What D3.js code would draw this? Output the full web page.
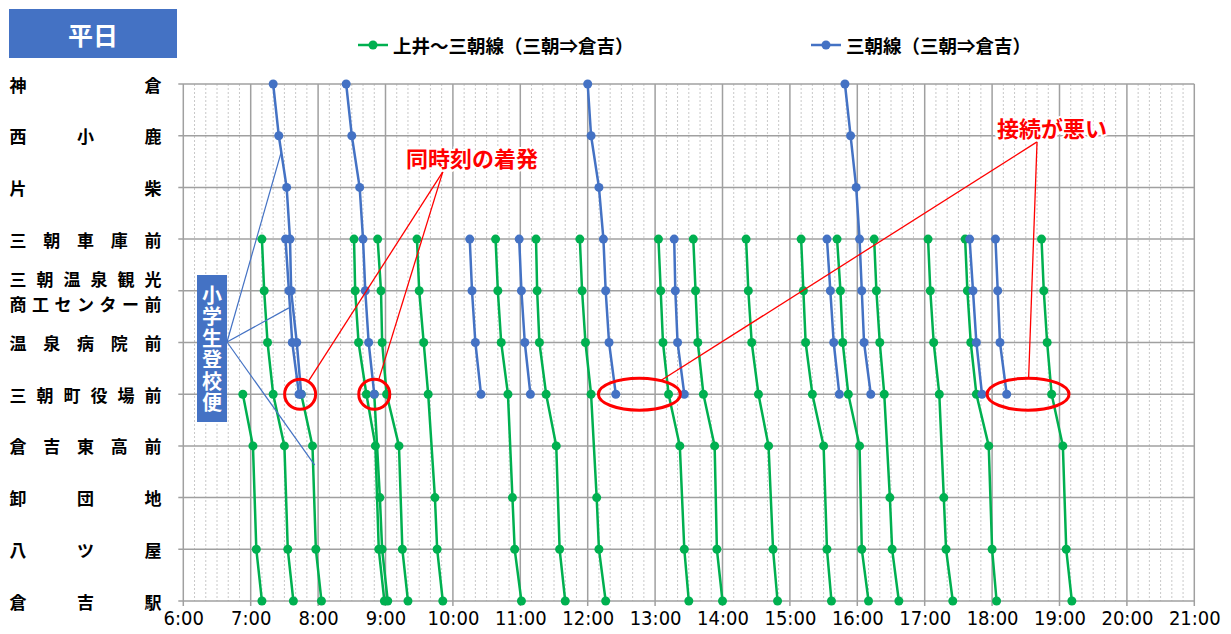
<!DOCTYPE html>
<html><head><meta charset="utf-8">
<script src="https://cdn.jsdelivr.net/npm/d3@7"></script>
<style>
body{margin:0;background:#fff;}
svg{display:block;font-family:"Noto Sans CJK JP","Noto Sans",sans-serif;}
</style>
</head><body>
<svg id="c" width="1231" height="634"></svg>
<script>
// ---------------- data ----------------
const stations = ["神倉","西小鹿","片柴","三朝車庫前","三朝温泉観光商工センター前","温泉病院前","三朝町役場前","倉吉東高前","卸団地","八ツ屋","倉吉駅"];
const stationLabelLines = [["神倉"],["西小鹿"],["片柴"],["三朝車庫前"],["三朝温泉観光","商工センター前"],["温泉病院前"],["三朝町役場前"],["倉吉東高前"],["卸団地"],["八ツ屋"],["倉吉駅"]];
const hourTicks = ["6:00","7:00","8:00","9:00","10:00","11:00","12:00","13:00","14:00","15:00","16:00","17:00","18:00","19:00","20:00","21:00"];
const seriesNames = ["上井～三朝線（三朝⇒倉吉）","三朝線（三朝⇒倉吉）"];
const title = "平日";

// 上井～三朝線 (green) trips: times per station (null = no stop)
const greenTrips = [
 [null,null,null,null,null,null,"6:53","7:02",null,"7:05","7:10"],
 [null,null,null,"7:10","7:12","7:15","7:20","7:30",null,"7:33","7:38"],
 [null,null,null,null,null,null,"7:45","7:55",null,"7:58","8:03"],
 [null,null,null,"8:32","8:33","8:36","8:43","8:51",null,"8:54","8:59"],
 [null,null,null,null,null,null,"8:50",null,"8:55","8:57","9:02"],
 [null,null,null,"8:53","8:56","8:57","9:01","9:12",null,"9:15","9:20"],
 [null,null,null,"9:28","9:30","9:34","9:38",null,"9:44","9:46","9:51"],
 [null,null,null,"10:38","10:40","10:43","10:49",null,"10:53","10:55","11:01"],
 [null,null,null,"11:14","11:15","11:17","11:23","11:32",null,"11:35","11:40"],
 [null,null,null,"11:53","11:55","11:58","12:03",null,"12:08","12:10","12:16"],
 [null,null,null,"13:03","13:05","13:07","13:12","13:22",null,"13:26","13:30"],
 [null,null,null,"13:34","13:36","13:38","13:43","13:53",null,"13:55","14:00"],
 [null,null,null,"14:21","14:23","14:26","14:32","14:41",null,"14:45","14:49"],
 [null,null,null,"15:10","15:12","15:14","15:20","15:30",null,"15:33","15:37"],
 [null,null,null,"15:42","15:45","15:47","15:52","16:02",null,"16:04","16:10"],
 [null,null,null,"16:15","16:17","16:20","16:24",null,"16:29","16:31","16:37"],
 [null,null,null,"17:03","17:05","17:08","17:13",null,"17:17","17:19","17:25"],
 [null,null,null,"17:36","17:38","17:41","17:46","17:57",null,"18:00","18:04"],
 [null,null,null,"18:44","18:46","18:49","18:53","19:03",null,"19:06","19:11"]
];
// 三朝線 (blue) trips
const blueTrips = [
 ["7:20","7:25","7:32","7:35","7:36","7:41","7:45"],
 [null,null,null,"7:31","7:34","7:37","7:43"],
 ["8:25","8:30","8:37","8:40","8:42","8:45","8:50"],
 [null,null,null,"10:15","10:17","10:20","10:25"],
 [null,null,null,"10:59","11:01","11:04","11:09"],
 ["12:00","12:03","12:10","12:14","12:16","12:19","12:25"],
 [null,null,null,"13:17","13:18","13:20","13:26"],
 [null,null,null,"15:33","15:36","15:39","15:44"],
 ["15:49","15:54","15:59","16:02","16:04","16:06","16:12"],
 [null,null,null,"17:40","17:43","17:46","17:51"],
 [null,null,null,"18:03","18:05","18:07","18:13"]
];

// annotations (in data space: time, station index)
const sameTimeLabel = "同時刻の着発";
const sameTimeCircles = [{t:"7:44", s:6}, {t:"8:50", s:6}];
const sameTimeHub = {t:"9:51", s:1.70};
const badLabel = "接続が悪い";
const badEllipses = [{t:"12:46", s:6}, {t:"18:32", s:6}];
const badHub = {t:"18:40", s:1.12};
const studentLabel = "小学生登校便";
const studentTargets = [{t:"7:27", s:1.33},{t:"7:34", s:4.33},{t:"7:57", s:7.37}];

// ---------------- drawing ----------------
const GREEN = "#00B050", BLUE = "#4472C4", RED = "#FF0000";
const toMin = s => { const [h,m] = s.split(":").map(Number); return h*60+m; };
const svg = d3.select("#c");
const x = d3.scaleLinear().domain([toMin(hourTicks[0]), toMin(hourTicks[hourTicks.length-1])]).range([183.3, 1194.3]);
const y = d3.scaleLinear().domain([0, stations.length-1]).range([84, 601]);

// minor grid (10 min)
const g = svg.append("g");
const minor = d3.range(x.domain()[0], x.domain()[1]+1, 10).filter(m => m%60 !== 0);
g.selectAll("line.minor").data(minor).join("line")
  .attr("x1", d=>x(d)).attr("x2", d=>x(d)).attr("y1", y(0)).attr("y2", y(10))
  .attr("stroke", "#c8c8c8").attr("stroke-width", 1).attr("stroke-dasharray", "2,2");
// major vertical grid
g.selectAll("line.vmaj").data(hourTicks.map(toMin)).join("line")
  .attr("x1", d=>x(d)).attr("x2", d=>x(d)).attr("y1", y(0)).attr("y2", y(10)+5)
  .attr("stroke", "#a0a0a0").attr("stroke-width", 1.5);
// horizontal grid
g.selectAll("line.hmaj").data(d3.range(stations.length)).join("line")
  .attr("x1", x.range()[0]-5).attr("x2", x.range()[1]).attr("y1", d=>y(d)).attr("y2", d=>y(d))
  .attr("stroke", "#a0a0a0").attr("stroke-width", 1.5);

// x axis labels
const xAxis = d3.axisBottom(x).tickValues(hourTicks.map(toMin)).tickFormat((d,i)=>hourTicks[i]).tickSize(0).tickPadding(10);
const ax = svg.append("g").attr("transform", `translate(0,${y(10)})`).call(xAxis);
ax.select(".domain").remove();
ax.selectAll("text").attr("font-family", "'Liberation Sans Narrow','DejaVu Sans Condensed',sans-serif")
  .attr("font-size", 20).attr("fill", "#000");

// y labels (distributed)
const labelLeft = 18, labelRight = 153;
stationLabelLines.forEach((lines, i) => {
  lines.forEach((ln, j) => {
    const chars = Array.from(ln);
    const yy = y(i) + (lines.length === 1 ? 0 : (j === 0 ? -12.5 : 12.5));
    chars.forEach((c, k) => {
      const cx = chars.length === 1 ? labelLeft : labelLeft + k*(labelRight-labelLeft)/(chars.length-1);
      svg.append("text").attr("x", cx).attr("y", yy).attr("text-anchor", "middle")
        .attr("dominant-baseline", "central").attr("font-size", 17).attr("font-weight", "bold")
        .attr("fill", "#000").text(c);
    });
  });
});

// series lines
const line = d3.line().x(d=>x(d.t)).y(d=>y(d.s));
function drawTrips(trips, color) {
  const gg = svg.append("g");
  trips.forEach(trip => {
    const pts = trip.map((t,s)=>({t: t ? toMin(t) : null, s})).filter(d=>d.t !== null);
    gg.append("path").datum(pts).attr("d", line).attr("fill","none")
      .attr("stroke", color).attr("stroke-width", 2.5).attr("stroke-linejoin","round");
    gg.selectAll(null).data(pts).join("circle").attr("cx", d=>x(d.t)).attr("cy", d=>y(d.s))
      .attr("r", 4.5).attr("fill", color);
  });
}
drawTrips(greenTrips, GREEN);
drawTrips(blueTrips, BLUE);

// title
svg.append("rect").attr("x", 9).attr("y", 9).attr("width", 168).attr("height", 49).attr("fill", BLUE);
svg.append("text").attr("x", 93).attr("y", 34).attr("text-anchor","middle").attr("dominant-baseline","central")
  .attr("font-size", 25).attr("font-weight","bold").attr("fill","#fff").text(title);

// legend
const legend = [{name: seriesNames[0], color: GREEN, x0: 358}, {name: seriesNames[1], color: BLUE, x0: 811}];
legend.forEach(l => {
  svg.append("line").attr("x1", l.x0).attr("x2", l.x0+30).attr("y1", 45).attr("y2", 45)
    .attr("stroke", l.color).attr("stroke-width", 2.5);
  svg.append("circle").attr("cx", l.x0+15).attr("cy", 45).attr("r", 4.5).attr("fill", l.color);
  svg.append("text").attr("x", l.x0+35).attr("y", 45).attr("dominant-baseline","central")
    .attr("font-size", 18.5).attr("font-weight","bold").attr("fill","#000").text(l.name);
});

// student annotation
const stuBox = {x: 197, y: 275, w: 30, h: 147};
const stuAnchor = [stuBox.x + stuBox.w, 342];
studentTargets.forEach(p => {
  svg.append("line").attr("x1", stuAnchor[0]).attr("y1", stuAnchor[1])
    .attr("x2", x(toMin(p.t))).attr("y2", y(p.s)).attr("stroke", BLUE).attr("stroke-width", 1.2);
});
svg.append("rect").attr("x", stuBox.x).attr("y", stuBox.y).attr("width", stuBox.w).attr("height", stuBox.h).attr("fill", BLUE);
svg.append("text").attr("x", stuBox.x + stuBox.w/2).attr("y", 285)
  .attr("writing-mode", "vertical-rl").attr("style", "writing-mode:vertical-rl;text-orientation:upright;letter-spacing:1.5px")
  .attr("font-size", 20).attr("font-weight","bold").attr("fill","#fff").text(studentLabel);

// same-time annotation
const stHub = [x(toMin(sameTimeHub.t)), y(sameTimeHub.s)];
sameTimeCircles.forEach(cc => {
  const cx = x(toMin(cc.t)), cy = y(cc.s), r = 15.5;
  const ang = Math.atan2(stHub[1]-cy, stHub[0]-cx);
  svg.append("line").attr("x1", stHub[0]).attr("y1", stHub[1])
    .attr("x2", cx + r*Math.cos(ang)).attr("y2", cy + r*Math.sin(ang)).attr("stroke", RED).attr("stroke-width", 1.3);
  svg.append("ellipse").attr("cx", cx).attr("cy", cy).attr("rx", r).attr("ry", r-0.5)
    .attr("fill","none").attr("stroke", RED).attr("stroke-width", 3);
});
svg.append("text").attr("x", 472).attr("y", 157).attr("text-anchor","middle").attr("dominant-baseline","central")
  .attr("font-size", 22).attr("font-weight","bold").attr("fill", RED)
  .attr("stroke","#fff").attr("stroke-width",4).attr("paint-order","stroke").text(sameTimeLabel);

// bad-connection annotation
const bHub = [x(toMin(badHub.t)), y(badHub.s)];
badEllipses.forEach(e => {
  const cx = x(toMin(e.t)), cy = y(e.s), rx = 41, ry = 16;
  const dx = bHub[0]-cx, dy = bHub[1]-cy;
  const k = 1/Math.sqrt((dx*dx)/(rx*rx) + (dy*dy)/(ry*ry));
  svg.append("line").attr("x1", bHub[0]).attr("y1", bHub[1])
    .attr("x2", cx + dx*k).attr("y2", cy + dy*k).attr("stroke", RED).attr("stroke-width", 1.3);
  svg.append("ellipse").attr("cx", cx).attr("cy", cy).attr("rx", rx).attr("ry", ry)
    .attr("fill","none").attr("stroke", RED).attr("stroke-width", 3);
});
svg.append("text").attr("x", 1052).attr("y", 127).attr("text-anchor","middle").attr("dominant-baseline","central")
  .attr("font-size", 22).attr("font-weight","bold").attr("fill", RED)
  .attr("stroke","#fff").attr("stroke-width",4).attr("paint-order","stroke").text(badLabel);
</script>
</body></html>
